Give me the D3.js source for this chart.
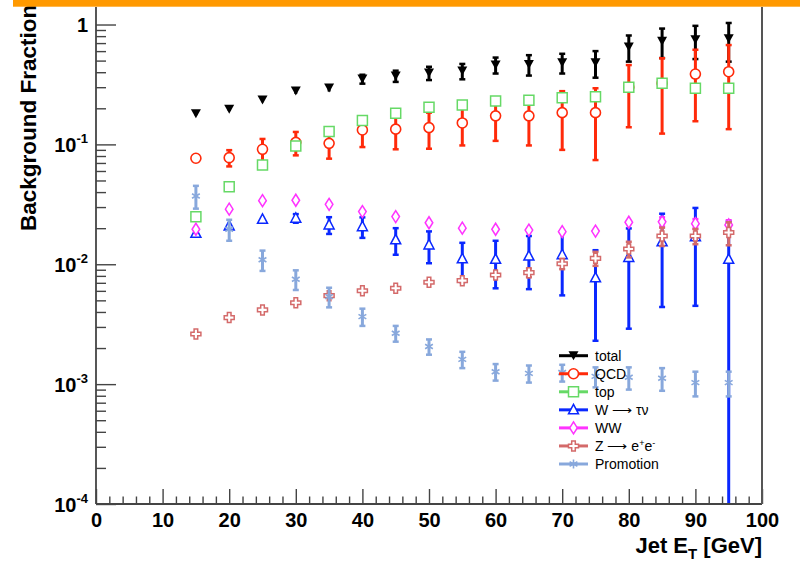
<!DOCTYPE html>
<html>
<head>
<meta charset="utf-8">
<script src="https://cdn.jsdelivr.net/npm/d3@7"></script>
<style>
  html, body { margin: 0; padding: 0; background: #fff; }
  svg { display: block; font-family: "Liberation Sans", Arial, Helvetica, sans-serif; }
</style>
</head>
<body>
<svg id="chart" width="800" height="561"></svg>
<script>
// Jet E_T bin centres [GeV]
const jetEt = [15, 20, 25, 30, 35, 40, 45, 50, 55, 60, 65, 70, 75, 80, 85, 90, 95];

// Background fractions per sample, with their uncertainties
const total    = [0.180, 0.196, 0.235, 0.279, 0.296, 0.351, 0.372, 0.394, 0.409, 0.460, 0.465, 0.480, 0.480, 0.650, 0.725, 0.745, 0.760];
const totalErr = [0.005, 0.006, 0.010, 0.015, 0.020, 0.030, 0.040, 0.050, 0.060, 0.070, 0.090, 0.090, 0.120, 0.160, 0.200, 0.230, 0.270];

const qcd    = [0.0766, 0.0775, 0.091, 0.104, 0.102, 0.132, 0.134, 0.138, 0.151, 0.173, 0.173, 0.184, 0.184, 0.299, 0.323, 0.386, 0.404];
const qcdErr = [0.004, 0.012, 0.020, 0.023, 0.026, 0.037, 0.043, 0.046, 0.053, 0.066, 0.075, 0.094, 0.110, 0.160, 0.200, 0.230, 0.270];

const topQuark    = [0.0249, 0.0444, 0.0673, 0.097, 0.128, 0.158, 0.182, 0.204, 0.213, 0.230, 0.234, 0.245, 0.250, 0.299, 0.323, 0.294, 0.294];
const topQuarkErr = [0.0005, 0.0008, 0.001, 0.0015, 0.002, 0.002, 0.002, 0.003, 0.003, 0.003, 0.003, 0.003, 0.004, 0.004, 0.004, 0.004, 0.004];

const wTau    = [0.0181, 0.0209, 0.0237, 0.0242, 0.0213, 0.0206, 0.0160, 0.0145, 0.0111, 0.0110, 0.0117, 0.0120, 0.0077, 0.0114, 0.0154, 0.0170, 0.0110];
const wTauErr = [0.0008, 0.0015, 0.0015, 0.0020, 0.0034, 0.0040, 0.0040, 0.0043, 0.0040, 0.0047, 0.0055, 0.0065, 0.0054, 0.0085, 0.0110, 0.0125, 0.0117];

const ww    = [0.0196, 0.0288, 0.0339, 0.0342, 0.0316, 0.0275, 0.0250, 0.0222, 0.0200, 0.0196, 0.0193, 0.0187, 0.0189, 0.0224, 0.0226, 0.0218, 0.0213];
const wwErr = [0.0003, 0.0004, 0.0005, 0.0005, 0.0005, 0.0005, 0.0005, 0.0006, 0.0006, 0.0007, 0.0007, 0.0008, 0.0009, 0.0012, 0.0020, 0.0020, 0.0020];

const zee    = [0.00262, 0.00359, 0.00416, 0.00478, 0.00547, 0.00602, 0.00630, 0.00708, 0.00730, 0.00814, 0.00851, 0.0101, 0.0112, 0.0134, 0.0172, 0.0172, 0.0184];
const zeeErr = [0.0001, 0.0001, 0.0002, 0.0002, 0.0003, 0.0003, 0.0003, 0.0004, 0.0005, 0.0006, 0.0007, 0.0010, 0.0015, 0.0020, 0.0030, 0.0025, 0.0040];

const promo    = [0.0371, 0.0196, 0.0109, 0.0075, 0.00537, 0.00366, 0.00266, 0.00206, 0.00161, 0.00127, 0.00123, 0.00125, 0.00116, 0.00114, 0.00112, 0.00103, 0.00103];
const promoErr = [0.0080, 0.0039, 0.0021, 0.0014, 0.0010, 0.0006, 0.0004, 0.0003, 0.00025, 0.0002, 0.0002, 0.0002, 0.00022, 0.00024, 0.00024, 0.00024, 0.00024];

// Axis tick definitions
const xMajorTicks = [0, 10, 20, 30, 40, 50, 60, 70, 80, 90, 100];
const yDecades = [1e-4, 1e-3, 1e-2, 1e-1, 1];
const yDecadeLabels = [["10", "-4"], ["10", "-3"], ["10", "-2"], ["10", "-1"], ["1", ""]];

const seriesList = [
  { name: "total",     vals: total,    errs: totalErr,    color: "#000000", marker: "downTri" },
  { name: "QCD",       vals: qcd,      errs: qcdErr,      color: "#ff2a0a", marker: "circle" },
  { name: "top",       vals: topQuark, errs: topQuarkErr, color: "#66d966", marker: "square" },
  { name: "W → τν",    vals: wTau,     errs: wTauErr,     color: "#0a28ff", marker: "upTri" },
  { name: "WW",        vals: ww,       errs: wwErr,       color: "#ff33ff", marker: "diamond" },
  { name: "Z → e+e-",  vals: zee,      errs: zeeErr,      color: "#d46a6a", marker: "cross" },
  { name: "Promotion", vals: promo,    errs: promoErr,    color: "#88a8dc", marker: "star" }
];

const svg = d3.select("#chart");

const x = d3.scaleLinear().domain([0, 100]).range([96, 762]);
const y = d3.scaleLog().domain([1e-4, 1.4]).range([504, 7]);
const yBottom = y.range()[0];

const axisColor = "#444";

// Marker shapes, centred on the data point
const markerPath = {
  downTri: "M-5,-4.5L5,-4.5L0,4.5Z",
  upTri: "M0,-5.5L5,4L-5,4Z",
  square: "M-5,-5H5V5H-5Z",
  diamond: "M0,-6L3.8,0L0,6L-3.8,0Z",
  cross: "M-1.8,-5H1.8V-1.8H5V1.8H1.8V5H-1.8V1.8H-5V-1.8H-1.8Z",
  star: "M0,-4.5V4.5M-3.9,-2.25L3.9,2.25M-3.9,2.25L3.9,-2.25"
};

function drawMarker(g, s) {
  if (s.marker === "circle") {
    g.append("circle").attr("r", 5).attr("fill", "#fff")
      .attr("stroke", s.color).attr("stroke-width", 1.6);
  } else if (s.marker === "downTri") {
    g.append("path").attr("d", markerPath.downTri).attr("fill", s.color);
  } else if (s.marker === "star") {
    g.append("path").attr("d", markerPath.star).attr("fill", "none")
      .attr("stroke", s.color).attr("stroke-width", 1.6);
  } else {
    g.append("path").attr("d", markerPath[s.marker]).attr("fill", "#fff")
      .attr("stroke", s.color).attr("stroke-width", 1.5);
  }
}

// Error bars and markers
const plot = svg.append("g");
seriesList.forEach(s => {
  const grp = plot.append("g");
  jetEt.forEach((et, i) => {
    const v = s.vals[i], e = s.errs[i];
    const cx = x(et);
    const yHi = y(v + e);
    const yLo = (v - e) > 1e-4 ? y(v - e) : yBottom;
    const eb = grp.append("g").attr("stroke", s.color);
    eb.append("line").attr("x1", cx).attr("x2", cx).attr("y1", yHi).attr("y2", yLo)
      .attr("stroke-width", 3);
    if (yLo - yHi > 8) {
      eb.append("line").attr("x1", cx - 3).attr("x2", cx + 3).attr("y1", yHi).attr("y2", yHi).attr("stroke-width", 2.5);
      if (yLo < yBottom) {
        eb.append("line").attr("x1", cx - 3).attr("x2", cx + 3).attr("y1", yLo).attr("y2", yLo).attr("stroke-width", 2.5);
      }
    }
    const m = grp.append("g").attr("transform", `translate(${cx},${y(v)})`);
    drawMarker(m, s);
  });
});

// Y axis: major decades and minor ticks
const yMinor = [];
for (let d = -4; d < 0; d++) {
  for (let k = 2; k <= 9; k++) yMinor.push(k * Math.pow(10, d));
}
const yAxisMinor = svg.append("g").attr("transform", `translate(${x(0)},0)`)
  .call(d3.axisLeft(y).tickValues(yMinor).tickSize(-10).tickFormat(""));
const yAxisMajor = svg.append("g").attr("transform", `translate(${x(0)},0)`)
  .call(d3.axisLeft(y).tickValues(yDecades).tickSize(-20).tickPadding(-12));
[yAxisMinor, yAxisMajor].forEach(a => {
  a.select(".domain").remove();
  a.selectAll("line").attr("stroke", axisColor).attr("stroke-width", 1.4);
});
yAxisMajor.selectAll("text").each(function (d) {
  const t = d3.select(this).text("")
    .attr("x", -8).attr("dy", null).attr("y", 7)
    .attr("font-size", 20).attr("font-weight", "bold").attr("fill", "#000")
    .attr("text-anchor", "end");
  const lab = yDecadeLabels[yDecades.indexOf(d)];
  t.append("tspan").text(lab[0]);
  if (lab[1]) t.append("tspan").attr("dy", -9).attr("font-size", 13).text(lab[1]);
});

// X axis: major every 10 GeV, minor every 2 GeV
const xMinor = d3.range(0, 101, 2).filter(v => v % 10 !== 0);
const xAxisMinor = svg.append("g").attr("transform", `translate(0,${yBottom})`)
  .call(d3.axisBottom(x).tickValues(xMinor).tickSize(-7.5).tickFormat(""));
const xAxisMajor = svg.append("g").attr("transform", `translate(0,${yBottom})`)
  .call(d3.axisBottom(x).tickValues(xMajorTicks).tickSize(-15).tickPadding(8).tickFormat(d3.format("d")));
[xAxisMinor, xAxisMajor].forEach(a => {
  a.select(".domain").remove();
  a.selectAll("line").attr("stroke", axisColor).attr("stroke-width", 1.4);
});
xAxisMajor.selectAll("text")
  .attr("y", 23).attr("dy", null)
  .attr("font-size", 20).attr("font-weight", "bold").attr("fill", "#000");

// Frame lines
svg.append("line").attr("x1", x(0)).attr("x2", x(0)).attr("y1", 7).attr("y2", yBottom)
  .attr("stroke", axisColor).attr("stroke-width", 1.8);
svg.append("line").attr("x1", x(0)).attr("x2", x(100)).attr("y1", yBottom).attr("y2", yBottom)
  .attr("stroke", axisColor).attr("stroke-width", 1.8);
svg.append("line").attr("x1", x(100)).attr("x2", x(100)).attr("y1", 7).attr("y2", yBottom)
  .attr("stroke", "#555").attr("stroke-width", 2);

// Axis titles
const xTitle = svg.append("text").attr("x", 762).attr("y", 553)
  .attr("text-anchor", "end").attr("font-size", 22).attr("font-weight", "bold");
xTitle.append("tspan").text("Jet E");
xTitle.append("tspan").attr("dy", 6).attr("font-size", 15).text("T");
xTitle.append("tspan").attr("dy", -6).text(" [GeV]");

svg.append("text")
  .attr("transform", "translate(36,231) rotate(-90)")
  .attr("text-anchor", "start").attr("font-size", 22.5).attr("font-weight", "bold")
  .text("Background Fraction");

// Legend
const legend = svg.append("g");
const legTop = 355.7, legStep = 18.05;
seriesList.forEach((s, i) => {
  const ly = legTop + i * legStep;
  legend.append("line").attr("x1", 559).attr("x2", 588).attr("y1", ly).attr("y2", ly)
    .attr("stroke", s.color).attr("stroke-width", 3);
  const m = legend.append("g").attr("transform", `translate(573.5,${ly})`);
  drawMarker(m, s);
  const t = legend.append("text").attr("x", 595).attr("y", ly + 5)
    .attr("font-size", 14).attr("fill", "#000");
  if (s.name === "Z → e+e-") {
    t.append("tspan").text("Z ⟶ e");
    t.append("tspan").attr("dy", -5).attr("font-size", 9).text("+");
    t.append("tspan").attr("dy", 5).text("e");
    t.append("tspan").attr("dy", -5).attr("font-size", 9).text("-");
  } else if (s.name === "W → τν") {
    t.text("W ⟶ τν");
  } else {
    t.text(s.name);
  }
});

// Orange header band
svg.append("rect").attr("x", 13).attr("y", 0).attr("width", 787).attr("height", 6.7)
  .attr("fill", "#ff9900");
</script>
</body>
</html>
